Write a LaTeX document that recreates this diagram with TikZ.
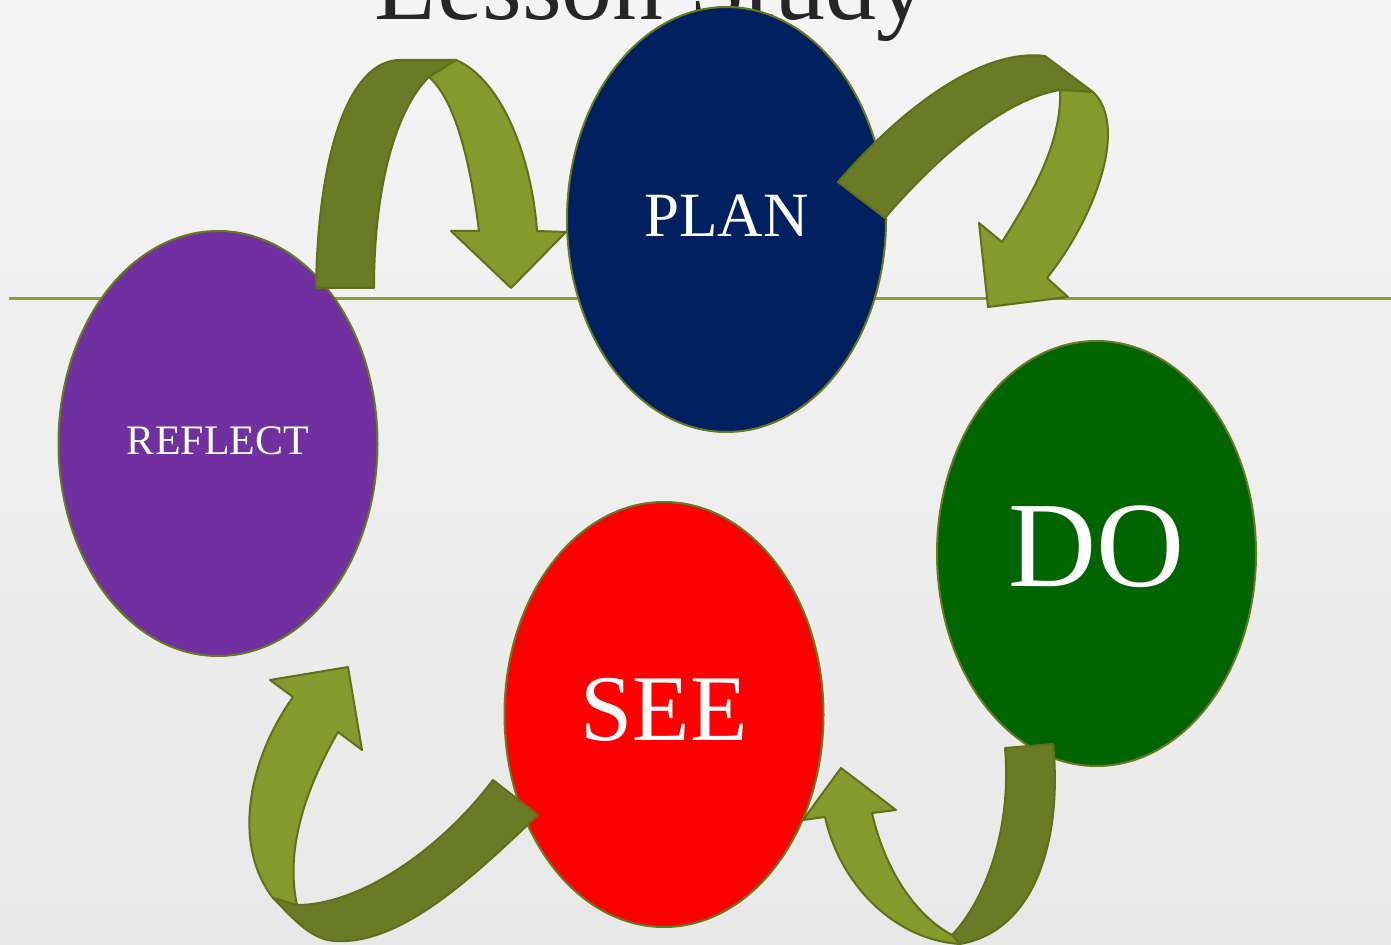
\documentclass[tikz,border=0pt]{standalone}
\usepackage{fontspec}
\setmainfont{Liberation Serif}
\usetikzlibrary{shapes.geometric}
\definecolor{arrdark}{RGB}{106,122,37}
\definecolor{arrlight}{RGB}{133,153,45}
\definecolor{arrline}{RGB}{95,112,25}
\definecolor{ellline}{RGB}{102,122,30}
\definecolor{hlinecol}{RGB}{140,160,50}
\definecolor{bgtop}{RGB}{244,244,244}
\definecolor{bgbot}{RGB}{232,232,232}
\definecolor{titlegray}{RGB}{38,38,38}
\definecolor{plancol}{RGB}{0,32,96}
\definecolor{reflectcol}{RGB}{112,48,160}
\definecolor{seecol}{RGB}{255,0,0}
\definecolor{docol}{RGB}{0,100,0}
\begin{document}
\begin{tikzpicture}[x=0.5pt,y=-0.5pt,
  stage/.style={ellipse, draw=ellline, line width=1pt, inner sep=0pt,
    minimum width=159.5pt, minimum height=212.5pt, text=white},
  darkpart/.style={fill=arrdark, draw=arrline, line width=1pt, line join=round},
  lightpart/.style={fill=arrlight, draw=arrline, line width=1pt, line join=round},
  hline/.style={draw=hlinecol, line width=1.5pt}]
\useasboundingbox (0,0) rectangle (1391,945);
\shade[top color=bgtop, bottom color=bgbot] (0,0) rectangle (1391,945);
\node[anchor=base, text=titlegray, inner sep=0pt, font=\fontsize{51pt}{60pt}\selectfont] (title) at (651,20) {Lesson Study};
\coordinate (lineL) at (9,299);
\coordinate (lineR) at (1391,299);
\draw[hline] (lineL) -- (lineR);
% stages
\node[stage, fill=plancol, font=\fontsize{31.5pt}{36pt}\selectfont] (plan) at (726.5,219.5) {\raisebox{3.5pt}{PLAN}};
\node[stage, fill=reflectcol, font=\fontsize{21pt}{25pt}\selectfont] (reflect) at (218,443.5) {\raisebox{2.5pt}{REFLECT}};
\node[stage, fill=seecol, font=\fontsize{47pt}{54pt}\selectfont] (see) at (664,714.5) {\raisebox{5.5pt}{SEE}};
\node[stage, fill=docol, font=\fontsize{61pt}{70pt}\selectfont] (do) at (1096.5,553.5) {\raisebox{7.5pt}{DO}};
% arrow 1: reflect -> plan
\path[darkpart] (316,288) .. controls (318,150) and (350,60) .. (400,60) -- (456,60) -- (429,77)
  .. controls (395,110) and (374,190) .. (374,288) -- cycle;
\path[lightpart] (456,60) .. controls (503,80) and (532,160) .. (537,231) -- (566,232) -- (511,288)
  -- (451,231) -- (479,231) .. controls (470,160) and (455,100) .. (429,77) -- cycle;
% arrow 2: plan -> do
\path[darkpart] (838,182) .. controls (900,110) and (980,48) .. (1045,56) -- (1093,92) -- (1060,90)
  .. controls (1000,100) and (930,165) .. (885,218) -- cycle;
\path[lightpart] (1060,90) -- (1093,92) .. controls (1128,125) and (1097,215) .. (1047,278)
  -- (1068,297) -- (988,307) -- (979,223) -- (1002,242)
  .. controls (1035,190) and (1062,140) .. (1060,90) -- cycle;
% arrow 3: see -> reflect
\path[darkpart] (493,780) -- (538,815) .. controls (470,880) and (400,945) .. (335,941)
  .. controls (310,940) and (290,915) .. (273,898) -- (297,905)
  .. controls (360,905) and (440,850) .. (493,780) -- cycle;
\path[lightpart] (273,898) .. controls (232,845) and (248,760) .. (293,697) -- (270,680) -- (348,667)
  -- (362,750) -- (338,732) .. controls (305,790) and (285,850) .. (297,905) -- cycle;
% arrow 4: do -> see
\path[darkpart] (1005,748) -- (1053,744) .. controls (1062,830) and (1040,930) .. (960,944)
  -- (952,935) .. controls (985,900) and (1012,830) .. (1005,748) -- cycle;
\path[lightpart] (960,944) .. controls (895,940) and (840,885) .. (825,817) -- (803,820) -- (841,768)
  -- (896,810) -- (872,813) .. controls (885,870) and (915,915) .. (952,935) -- cycle;
\end{tikzpicture}
\end{document}
